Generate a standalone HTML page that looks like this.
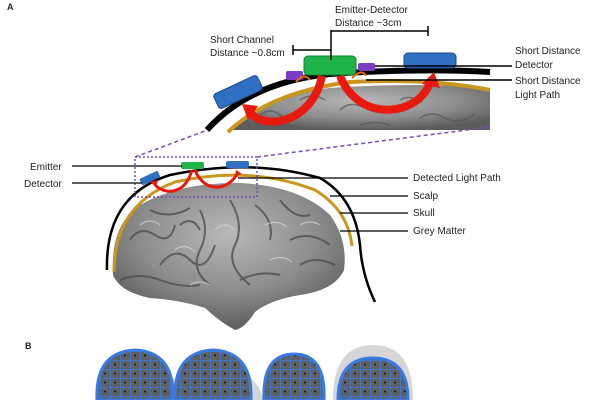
<!DOCTYPE html>
<html><head><style>
html,body{margin:0;padding:0;background:#fff;width:609px;height:400px;overflow:hidden}
svg{display:block}
svg text{font-family:"Liberation Sans",sans-serif;font-size:10px;fill:#222}
</style></head><body>
<svg width="609" height="400" viewBox="0 0 609 400">
<defs>
<radialGradient id="br" cx="50%" cy="35%" r="65%"><stop offset="0" stop-color="#b8b8b8"/><stop offset="0.6" stop-color="#8c8c8c"/><stop offset="1" stop-color="#5c5c5c"/></radialGradient>
<pattern id="mesh" width="10" height="9" patternUnits="userSpaceOnUse"><rect width="10" height="9" fill="#606060"/><path d="M0 0H10M0 0V9" stroke="#3a7ae0" stroke-width="1.6"/><circle cx="5" cy="4.5" r="1" fill="#111"/></pattern>
</defs>
<text x="7" y="10" style="font-weight:bold;font-size:9px">A</text>
<path d="M232 130 Q260 95 330 88 Q420 82 490 88 L490 130 Z" fill="url(#br)"/>
<g stroke="#555" stroke-width="1.5" fill="none" opacity="0.7">
<path d="M260 115 q10 -8 20 0 t20 -2 M300 100 q12 -8 25 0 M340 110 q10 -10 25 -2 t25 0 M400 100 q10 -6 22 2 M420 118 q12 -8 25 0 t30 -4 M270 128 q15 -6 30 0 M360 125 q15 -5 30 0"/>
</g>
<path d="M228 132 Q270 92 350 82 Q430 78 490 90" stroke="#c9961e" stroke-width="4" fill="none"/>
<path d="M207 130 Q250 82 330 74 Q420 68 490 72" stroke="#000" stroke-width="6" fill="none"/>
<path d="M135 157 L205 131" stroke="#7a4fb0" stroke-width="1.5" stroke-dasharray="4,3"/>
<path d="M257 157 L490 127" stroke="#7a4fb0" stroke-width="1.5" stroke-dasharray="4,3"/>
<g transform="rotate(-25 238 92)"><rect x="214" y="84" width="48" height="16" rx="3" fill="#2f6fc4" stroke="#1c4a8c"/></g>
<rect x="286" y="71" width="17" height="9" rx="2" fill="#7a3cc0"/>
<rect x="358" y="63" width="17" height="8" rx="2" fill="#7a3cc0"/>
<rect x="304" y="56" width="52" height="19" rx="4" fill="#1fb34a" stroke="#128030"/>
<rect x="404" y="53" width="52" height="15" rx="4" fill="#2f6fc4" stroke="#1c4a8c"/>
<path d="M322 76 C312 125 262 130 250 112" stroke="#e8190f" stroke-width="8" fill="none"/>
<path d="M242 104 l16 2 l-10 14 z" fill="#e8190f"/>
<path d="M340 76 C360 125 420 115 430 82" stroke="#e8190f" stroke-width="8" fill="none"/>
<path d="M422 84 l12 -12 l6 16 z" fill="#e8190f"/>
<path d="M296 82 q8 -10 14 -2 M352 78 q10 -10 14 -2" stroke="#e86a10" stroke-width="2" fill="none"/>
<path d="M331 30 V60 M331 31 H428 M428 26 V36 M293 45 V55 M293 50 H331" stroke="#000" stroke-width="1.5" fill="none"/>
<path d="M375 66 H512 M366 80 H512" stroke="#000" stroke-width="1.5"/>
<text x="335" y="13">Emitter-Detector</text>
<text x="335" y="26">Distance ~3cm</text>
<text x="210" y="43">Short Channel</text>
<text x="210" y="56">Distance ~0.8cm</text>
<text x="515" y="54">Short Distance</text>
<text x="515" y="68">Detector</text>
<text x="515" y="84">Short Distance</text>
<text x="515" y="98">Light Path</text>
<path d="M113 275 Q110 225 140 205 Q180 182 240 183 Q300 186 330 215 Q348 240 344 270 Q335 290 300 295 Q270 300 255 312 Q245 328 235 330 Q220 322 205 308 Q180 300 150 298 Q120 292 113 275Z" fill="url(#br)"/>
<g stroke="#4a4a4a" stroke-width="2" fill="none" opacity="0.75">
<path d="M130 240 q10 -15 25 -5 t20 -10 M160 265 q15 -20 30 -5 t25 -15 M200 210 q10 20 0 40 t10 35 M230 200 q15 25 5 45 t15 40 M255 205 q20 15 15 35 M280 200 q15 20 30 15 M290 240 q20 -10 40 5 M120 280 q20 -8 40 0 t40 5 M180 225 q12 -10 20 5 M300 265 q15 -10 35 0 M150 210 q20 10 40 -2 M240 280 q20 -10 40 -5"/>
</g>
<g stroke="#d8d8d8" stroke-width="1.2" fill="none" opacity="0.7">
<path d="M140 225 q10 -8 20 0 M175 250 q10 -8 20 2 M215 230 q10 -10 20 0 M265 225 q12 -6 22 2 M300 225 q10 -6 20 0 M190 285 q10 -6 20 0 M270 260 q12 -6 22 2"/>
</g>
<path d="M114 272 Q114 205 175 182 Q250 165 315 190 Q348 210 352 246" stroke="#c9961e" stroke-width="3" fill="none"/>
<path d="M107 270 Q105 195 170 175 Q250 158 320 178 Q355 198 360 245 Q362 275 375 302" stroke="#000" stroke-width="2.5" fill="none"/>
<rect x="135" y="157" width="122" height="40" fill="none" stroke="#7a4fb0" stroke-width="1.5" stroke-dasharray="2,2"/>
<g transform="rotate(-25 151 178)"><rect x="140" y="174" width="20" height="7" rx="1" fill="#2f6fc4"/></g>
<rect x="181" y="162" width="23" height="7" rx="2" fill="#1fb34a"/>
<rect x="226" y="161" width="23" height="7" rx="2" fill="#2f6fc4"/>
<path d="M192 170 C185 195 165 195 155 185 M195 170 C205 195 230 190 238 172" stroke="#e8190f" stroke-width="3" fill="none"/>
<path d="M150 182 l8 -2 l-2 7z M236 170 l6 4 l-7 2z" fill="#e8190f"/>
<path d="M72 166 H182 M72 183 H142 M238 178 H408 M330 196 H408 M340 213 H408 M340 231 H408" stroke="#000" stroke-width="1.3"/>
<text x="30" y="170">Emitter</text>
<text x="24" y="187">Detector</text>
<text x="413" y="181">Detected Light Path</text>
<text x="413" y="199">Scalp</text>
<text x="413" y="216">Skull</text>
<text x="413" y="234">Grey Matter</text>
<text x="25" y="349" style="font-weight:bold;font-size:9px">B</text>
<path d="M95 400 Q100 370 140 368 Q180 370 185 400Z" fill="#d6d6d6"/>
<path d="M97 400 Q95 352 135 350 Q175 352 173 400Z" fill="url(#mesh)" stroke="#3a7ae0" stroke-width="3"/>
<path d="M173 400 Q178 370 218 368 Q258 370 263 400Z" fill="#d6d6d6"/>
<path d="M175 400 Q173 352 213 350 Q253 352 251 400Z" fill="url(#mesh)" stroke="#3a7ae0" stroke-width="3"/>
<path d="M264 400 Q262 354 294 354 Q326 354 324 400Z" fill="url(#mesh)" stroke="#3a7ae0" stroke-width="3"/>
<path d="M333 400 Q333 345 373 345 Q413 345 413 400Z" fill="#d6d6d6"/>
<path d="M338 400 Q338 358 373 358 Q408 358 408 400Z" fill="url(#mesh)" stroke="#3a7ae0" stroke-width="3"/>
</svg>
</body></html>
